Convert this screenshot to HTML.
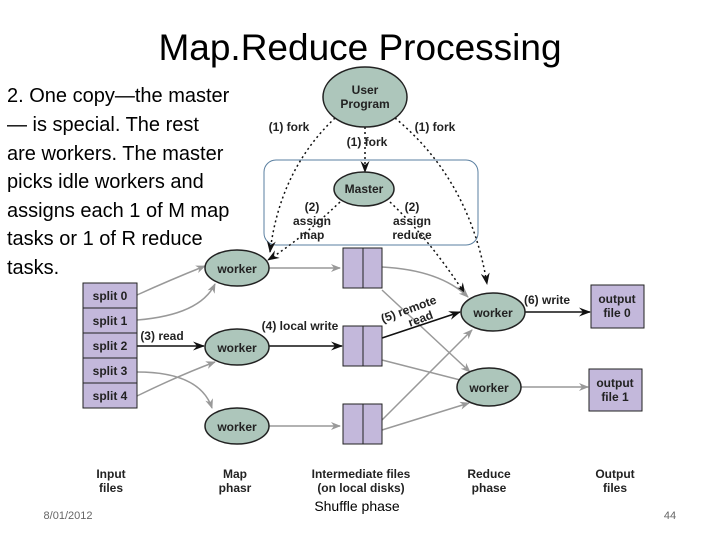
<!DOCTYPE html>
<html><head><meta charset="utf-8"><style>
body{margin:0;background:#fff;width:720px;height:540px;overflow:hidden;font-family:"Liberation Sans",sans-serif}
</style></head><body>
<svg width="720" height="540" viewBox="0 0 720 540" xmlns="http://www.w3.org/2000/svg">
<defs>
<marker id="ag" markerWidth="10" markerHeight="8" refX="9" refY="4" orient="auto" markerUnits="userSpaceOnUse"><path d="M0,0 L10,4 L0,8 L3,4z" fill="#999"/></marker>
<marker id="ab" markerWidth="12" markerHeight="9" refX="11" refY="4.5" orient="auto" markerUnits="userSpaceOnUse"><path d="M0,0 L12,4.5 L0,9 L4,4.5z" fill="#111"/></marker>
</defs>
<text x="360" y="60" font-size="37" text-anchor="middle" fill="#000">Map.Reduce Processing</text>
<g font-size="20" fill="#000" textLength="0">
<text x="7" y="102">2. One copy—the master</text>
<text x="7" y="131">— is special. The rest</text>
<text x="7" y="160">are workers. The master</text>
<text x="7" y="188">picks idle workers and</text>
<text x="7" y="217">assigns each 1 of M map</text>
<text x="7" y="245">tasks or 1 of R reduce</text>
<text x="7" y="274">tasks.</text>
</g>
<rect x="264" y="160" width="214" height="85" rx="12" fill="none" stroke="#5a7fa0" stroke-width="1"/>
<g stroke="#111" stroke-width="1.5" stroke-dasharray="2,3" fill="none">
<path d="M335,118 Q280,170 270,252" marker-end="url(#ab)"/>
<path d="M365,127 L365,172" marker-end="url(#ab)"/>
<path d="M395,118 Q470,180 487,284" marker-end="url(#ab)"/>
<path d="M340,202 Q300,240 268,260" marker-end="url(#ab)"/>
<path d="M390,202 Q430,240 465,294" marker-end="url(#ab)"/>
</g>
<g stroke="#999" stroke-width="1.5" fill="none" marker-end="url(#ag)">
<path d="M137,295 Q170,280 205,266"/>
<path d="M137,320 Q200,315 215,284"/>
<path d="M137,396 Q180,375 215,362"/>
<path d="M137,372 Q200,372 212,408"/>
<path d="M269,268 L340,268"/>
<path d="M269,426 L340,426"/>
<path d="M382,267 Q440,270 468,297"/>
<path d="M382,290 L470,372"/>
<path d="M382,360 L468,382"/>
<path d="M382,420 L472,330"/>
<path d="M382,430 L469,403"/>
<path d="M521,387 L588,387"/>
</g>
<g stroke="#111" stroke-width="1.5" fill="none" marker-end="url(#ab)">
<path d="M137,346 L204,346"/>
<path d="M269,346 L342,346"/>
<path d="M382,338 L460,312"/>
<path d="M525,312 L590,312"/>
</g>
<g fill="#c3b8db" stroke="#222" stroke-width="1">
<rect x="83" y="283" width="54" height="25"/><rect x="83" y="308" width="54" height="25"/><rect x="83" y="333" width="54" height="25"/><rect x="83" y="358" width="54" height="25"/><rect x="83" y="383" width="54" height="25"/>
<rect x="343" y="248" width="20" height="40"/><rect x="363" y="248" width="19" height="40"/>
<rect x="343" y="326" width="20" height="40"/><rect x="363" y="326" width="19" height="40"/>
<rect x="343" y="404" width="20" height="40"/><rect x="363" y="404" width="19" height="40"/>
<rect x="591" y="285" width="53" height="43"/><rect x="589" y="369" width="53" height="42"/>
</g>
<g fill="#adc6bb" stroke="#222" stroke-width="1.5">
<ellipse cx="365" cy="97" rx="42" ry="30"/>
<ellipse cx="364" cy="189" rx="30" ry="17"/>
<ellipse cx="237" cy="268" rx="32" ry="18"/>
<ellipse cx="237" cy="347" rx="32" ry="18"/>
<ellipse cx="237" cy="426" rx="32" ry="18"/>
<ellipse cx="493" cy="312" rx="32" ry="19"/>
<ellipse cx="489" cy="387" rx="32" ry="19"/>
</g>
<g font-size="12" font-weight="bold" fill="#222" text-anchor="middle">
<text x="365" y="94">User</text><text x="365" y="108">Program</text>
<text x="364" y="193">Master</text>
<text x="237" y="273">worker</text><text x="237" y="352">worker</text><text x="237" y="431">worker</text>
<text x="493" y="317">worker</text><text x="489" y="392">worker</text>
<text x="110" y="300">split 0</text><text x="110" y="325">split 1</text><text x="110" y="350">split 2</text><text x="110" y="375">split 3</text><text x="110" y="400">split 4</text>
<text x="617" y="303">output</text><text x="617" y="317">file 0</text>
<text x="615" y="387">output</text><text x="615" y="401">file 1</text>
<text x="289" y="131">(1) fork</text><text x="367" y="146">(1) fork</text><text x="435" y="131">(1) fork</text>
<text x="312" y="211">(2)</text><text x="312" y="225">assign</text><text x="312" y="239">map</text>
<text x="412" y="211">(2)</text><text x="412" y="225">assign</text><text x="412" y="239">reduce</text>
<text x="162" y="340">(3) read</text>
<text x="300" y="330">(4) local write</text>
<text x="547" y="304">(6) write</text>
<text x="111" y="478">Input</text><text x="111" y="492">files</text>
<text x="235" y="478">Map</text><text x="235" y="492">phasr</text>
<text x="361" y="478">Intermediate files</text><text x="361" y="492">(on local disks)</text>
<text x="489" y="478">Reduce</text><text x="489" y="492">phase</text>
<text x="615" y="478">Output</text><text x="615" y="492">files</text>
</g>
<g font-size="12" font-weight="bold" fill="#222" text-anchor="middle" transform="translate(410,313) rotate(-20)">
<text x="0" y="0">(5) remote</text><text x="8" y="13">read</text>
</g>
<text x="357" y="511" font-size="14" text-anchor="middle" fill="#000">Shuffle phase</text>
<text x="68" y="519" font-size="11" text-anchor="middle" fill="#666">8/01/2012</text>
<text x="670" y="519" font-size="11" text-anchor="middle" fill="#666">44</text>
</svg>
</body></html>
